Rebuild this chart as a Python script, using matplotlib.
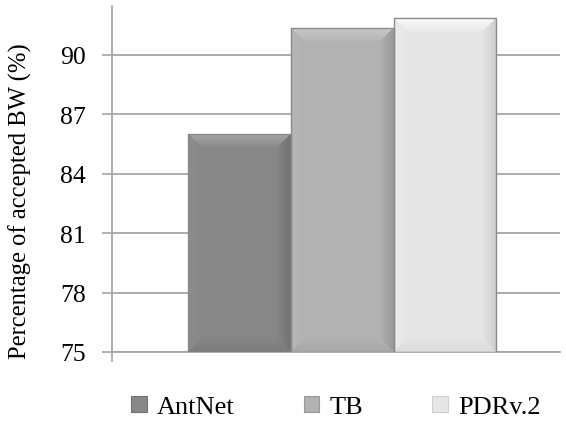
import numpy as np
import matplotlib.pyplot as plt
from matplotlib.patches import Polygon, Patch
from matplotlib.colors import LinearSegmentedColormap

plt.rcParams['font.family'] = ['Liberation Serif', 'DejaVu Serif']

# accepted bandwidth per routing scheme
schemes = ["AntNet", "TB", "PDRv.2"]
accepted_bw = [86.0, 91.35, 91.85]
y_ticks = [75, 78, 81, 84, 87, 90]

# face / top bevel / bottom bevel / left side / right side shades
shades = [
    ("#878787", "#a4a4a4", "#7b7b7b", "#8c8c8c", "#727272"),
    ("#b2b2b2", "#c8c8c8", "#a8a8a8", "#b6b6b6", "#999999"),
    ("#e6e6e6", "#fcfcfc", "#dcdcdc", "#ebebeb", "#cfcfcf"),
]

fig = plt.figure(figsize=(5.66, 4.27), dpi=100)
ax = fig.add_axes([112 / 566, 74 / 427, 448 / 566, 346 / 427])
xlim, ylim = (-1.24, 3.12), (75, 92.45)
ax.set_xlim(*xlim)
ax.set_ylim(*ylim)

ax.set_yticks(y_ticks)
ax.yaxis.grid(True, color="#a6a6a6", lw=1.3)
ax.set_axisbelow(True)
ax.tick_params(axis="y", length=7, width=1.2, color="#a6a6a6", pad=12, labelsize=18.5)
ax.set_xticks([xlim[0]])
ax.set_xticklabels([""])
ax.tick_params(axis="x", length=7, width=1.2, color="#a6a6a6")
for side in ["top", "right"]:
    ax.spines[side].set_visible(False)
for side in ["left", "bottom"]:
    ax.spines[side].set_color("#a6a6a6")
    ax.spines[side].set_linewidth(1.3)

# bevel size in pixels converted to data units
fig.canvas.draw()
p0 = ax.transData.transform((0, 75))
p1 = ax.transData.transform((1, 76))
bx = 15 / (p1[0] - p0[0])
by = 15 / (p1[1] - p0[1])

x_pos = np.arange(len(schemes))
bars = ax.bar(x_pos, [v - 75 for v in accepted_bw], bottom=75, width=1.0,
              color=[s[0] for s in shades], edgecolor="none", zorder=2)


def shade_piece(pts, c_from, c_to, horizontal, extent):
    # gradient fill clipped to one bevel facet
    poly = Polygon(pts, closed=True, facecolor="none", edgecolor="none")
    ax.add_patch(poly)
    g = np.linspace(0, 1, 64)
    arr = g[None, :] if horizontal else g[:, None]
    cmap = LinearSegmentedColormap.from_list("f", [c_from, c_to])
    im = ax.imshow(arr, cmap=cmap, extent=extent, origin="lower",
                   aspect="auto", zorder=3, interpolation="bilinear")
    im.set_clip_path(poly)


for b, (face, top, bot, left, right) in zip(bars, shades):
    x0, x1 = b.get_x(), b.get_x() + b.get_width()
    y0, y1 = b.get_y(), b.get_y() + b.get_height()
    # top facet: light at the edge, fading into the face
    shade_piece([(x0, y1), (x1, y1), (x1 - bx, y1 - by), (x0 + bx, y1 - by)],
                face, top, False, (x0, x1, y1 - by, y1))
    # bottom facet
    shade_piece([(x0, y0), (x1, y0), (x1 - bx, y0 + by), (x0 + bx, y0 + by)],
                bot, face, False, (x0, x1, y0, y0 + by))
    # left facet
    shade_piece([(x0, y0), (x0, y1), (x0 + bx, y1 - by), (x0 + bx, y0 + by)],
                left, face, True, (x0, x0 + bx, y0, y1))
    # right facet: darker towards the edge
    shade_piece([(x1, y0), (x1, y1), (x1 - bx, y1 - by), (x1 - bx, y0 + by)],
                face, right, True, (x1 - bx, x1, y0, y1))
    ax.add_patch(Polygon([(x0, y0), (x0, y1), (x1, y1), (x1, y0)], closed=True,
                         facecolor="none", edgecolor="#8a8a8a", lw=1.0, zorder=4))

ax.set_xlim(*xlim)
ax.set_ylim(*ylim)

fig.text(20 / 566, 1 - 201 / 427, "Percentage of accepted BW (%)", rotation=90,
         ha="center", va="center", fontsize=17.7)

handles = [Patch(facecolor=s[0], edgecolor=s[4], lw=0.8) for s in shades]
fig.legend(handles, schemes, loc="center", bbox_to_anchor=(336 / 566, 1 - 408 / 427),
           ncol=3, frameon=False, fontsize=19, handlelength=0.6, handleheight=0.6,
           handletextpad=0.4, columnspacing=2.6)

fig.savefig("out.png", dpi=100)
